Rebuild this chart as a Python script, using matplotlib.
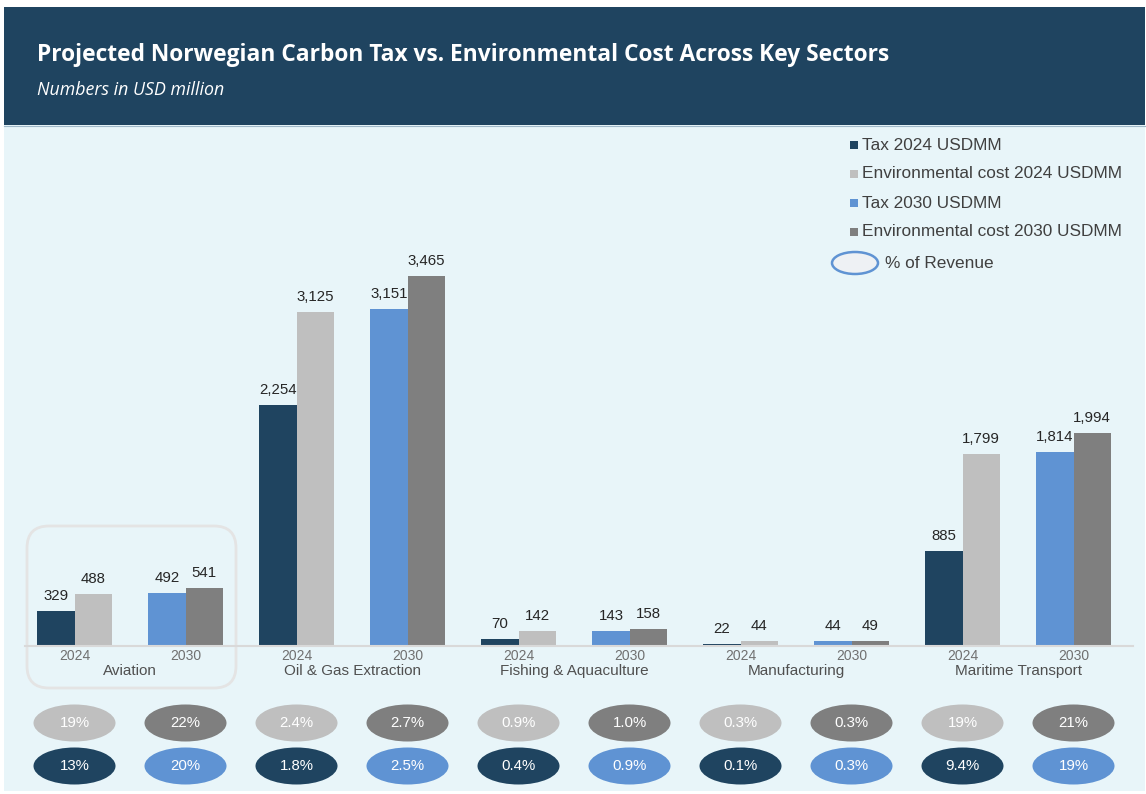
import matplotlib
matplotlib.use("Agg")
import matplotlib.pyplot as plt
from matplotlib.patches import Rectangle, FancyBboxPatch, Ellipse

plt.rcParams['font.family'] = ['Liberation Sans', 'DejaVu Sans']

# Sector data (USD million)
sectors = ["Aviation", "Oil & Gas Extraction", "Fishing & Aquaculture", "Manufacturing", "Maritime Transport"]
tax_2024 = [329, 2254, 70, 22, 885]
env_2024 = [488, 3125, 142, 44, 1799]
tax_2030 = [492, 3151, 143, 44, 1814]
env_2030 = [541, 3465, 158, 49, 1994]

# % of revenue
env_pct_2024 = ["19%", "2.4%", "0.9%", "0.3%", "19%"]
env_pct_2030 = ["22%", "2.7%", "1.0%", "0.3%", "21%"]
tax_pct_2024 = ["13%", "1.8%", "0.4%", "0.1%", "9.4%"]
tax_pct_2030 = ["20%", "2.5%", "0.9%", "0.3%", "19%"]

years = ["2024", "2030"]
series_names = ["Tax 2024 USDMM", "Environmental cost 2024 USDMM",
                "Tax 2030 USDMM", "Environmental cost 2030 USDMM"]

NAVY = "#1F4460"
LIGHT_GREY = "#BFBFBF"
BLUE = "#5F93D3"
DARK_GREY = "#7F7F7F"
BG = "#E8F5F9"

W, H = 1146, 794
fig = plt.figure(figsize=(W / 100, H / 100), dpi=100)
fig.patch.set_facecolor("white")

# pixel-space canvas for panels, header and legend
canvas = fig.add_axes([0, 0, 1, 1])
canvas.set_xlim(0, W)
canvas.set_ylim(H, 0)
canvas.axis("off")
canvas.add_patch(Rectangle((4, 125), 1141, 666, facecolor=BG, edgecolor="none"))
canvas.add_patch(Rectangle((4, 7), 1141, 118, facecolor=NAVY, edgecolor="none"))
canvas.plot([4, 1145], [125.5, 125.5], color="#9FB8C8", lw=0.8)
canvas.text(37, 55, "Projected Norwegian Carbon Tax vs. Environmental Cost Across Key Sectors",
            color="white", fontsize=16.4, fontweight="bold", family="Open Sans", va="center")
canvas.text(37, 90, "Numbers in USD million", color="white", fontsize=12.8,
            style="italic", family="Open Sans", va="center")

# highlight box around Aviation
canvas.add_patch(FancyBboxPatch((27, 526), 209, 162,
                                boxstyle="round,pad=0,rounding_size=22",
                                facecolor="none", edgecolor="#E4E4E4", lw=2))

# legend
colors = [NAVY, LIGHT_GREY, BLUE, DARK_GREY]
for i, (name, c) in enumerate(zip(series_names, colors)):
    y = 145 + i * 29
    canvas.add_patch(Rectangle((850, y - 4), 8, 8, facecolor=c, edgecolor="none"))
    canvas.text(862, y, name, fontsize=12.4, color="#404040", va="center")
canvas.add_patch(Ellipse((855, 263), 46, 22, facecolor="#EEF1F4", edgecolor="#5F93D3", lw=1.8))
canvas.text(885, 263, "% of Revenue", fontsize=12.4, color="#404040", va="center")

# bar axes: pixel 25..1133 horizontally, baseline at y=646
x0 = -0.473
x1 = 4.518
ax = fig.add_axes([25 / W, (H - 646) / H, 1108 / W, (646 - 130) / H])
ax.set_xlim(x0, x1)
ax.set_ylim(0, 4830)
ax.patch.set_alpha(0)
for s in ["top", "right", "left"]:
    ax.spines[s].set_visible(False)
ax.spines["bottom"].set_color("#D9D9D9")
ax.spines["bottom"].set_linewidth(1.5)
ax.set_xticks([])
ax.set_yticks([])

bw = 0.167
off = 0.25
groups = list(range(len(sectors)))
series = [
    (tax_2024, -off - bw / 2, NAVY),
    (env_2024, -off + bw / 2, LIGHT_GREY),
    (tax_2030, off - bw / 2, BLUE),
    (env_2030, off + bw / 2, DARK_GREY),
]
for vals, dx, c in series:
    xs = [g + dx for g in groups]
    bars = ax.bar(xs, vals, width=bw, color=c, edgecolor="none")
    for b, v in zip(bars, vals):
        ax.annotate(f"{v:,}", (b.get_x() + b.get_width() / 2, v), xytext=(0, 8),
                    textcoords="offset pixels", ha="center", va="bottom",
                    fontsize=10.8, color="#262626")

for g, name in zip(groups, sectors):
    for yr, dx in zip(years, [-off, off]):
        ax.annotate(yr, (g + dx, 0), xytext=(0, -10), textcoords="offset pixels",
                    ha="center", va="center", fontsize=10, color="#707070",
                    annotation_clip=False)
    ax.annotate(name, (g, 0), xytext=(0, -25), textcoords="offset pixels",
                ha="center", va="center", fontsize=11, color="#505050",
                annotation_clip=False)

# % of revenue ovals, y in pixel units
ov = fig.add_axes([25 / W, 0, 1108 / W, (H - 694) / H])
ov.set_xlim(x0, x1)
ov.set_ylim(H, 694)
ov.axis("off")
rows = [
    (723, [(env_pct_2024, -off, LIGHT_GREY), (env_pct_2030, off, DARK_GREY)]),
    (766, [(tax_pct_2024, -off, NAVY), (tax_pct_2030, off, BLUE)]),
]
for yc, items in rows:
    for labels, dx, c in items:
        for g, lab in zip(groups, labels):
            ov.add_patch(Ellipse((g + dx, yc), 82 / 222, 37, facecolor=c, edgecolor="none"))
            ov.text(g + dx, yc, lab, ha="center", va="center", fontsize=10.8, color="white")

fig.savefig("out.png", dpi=100)
